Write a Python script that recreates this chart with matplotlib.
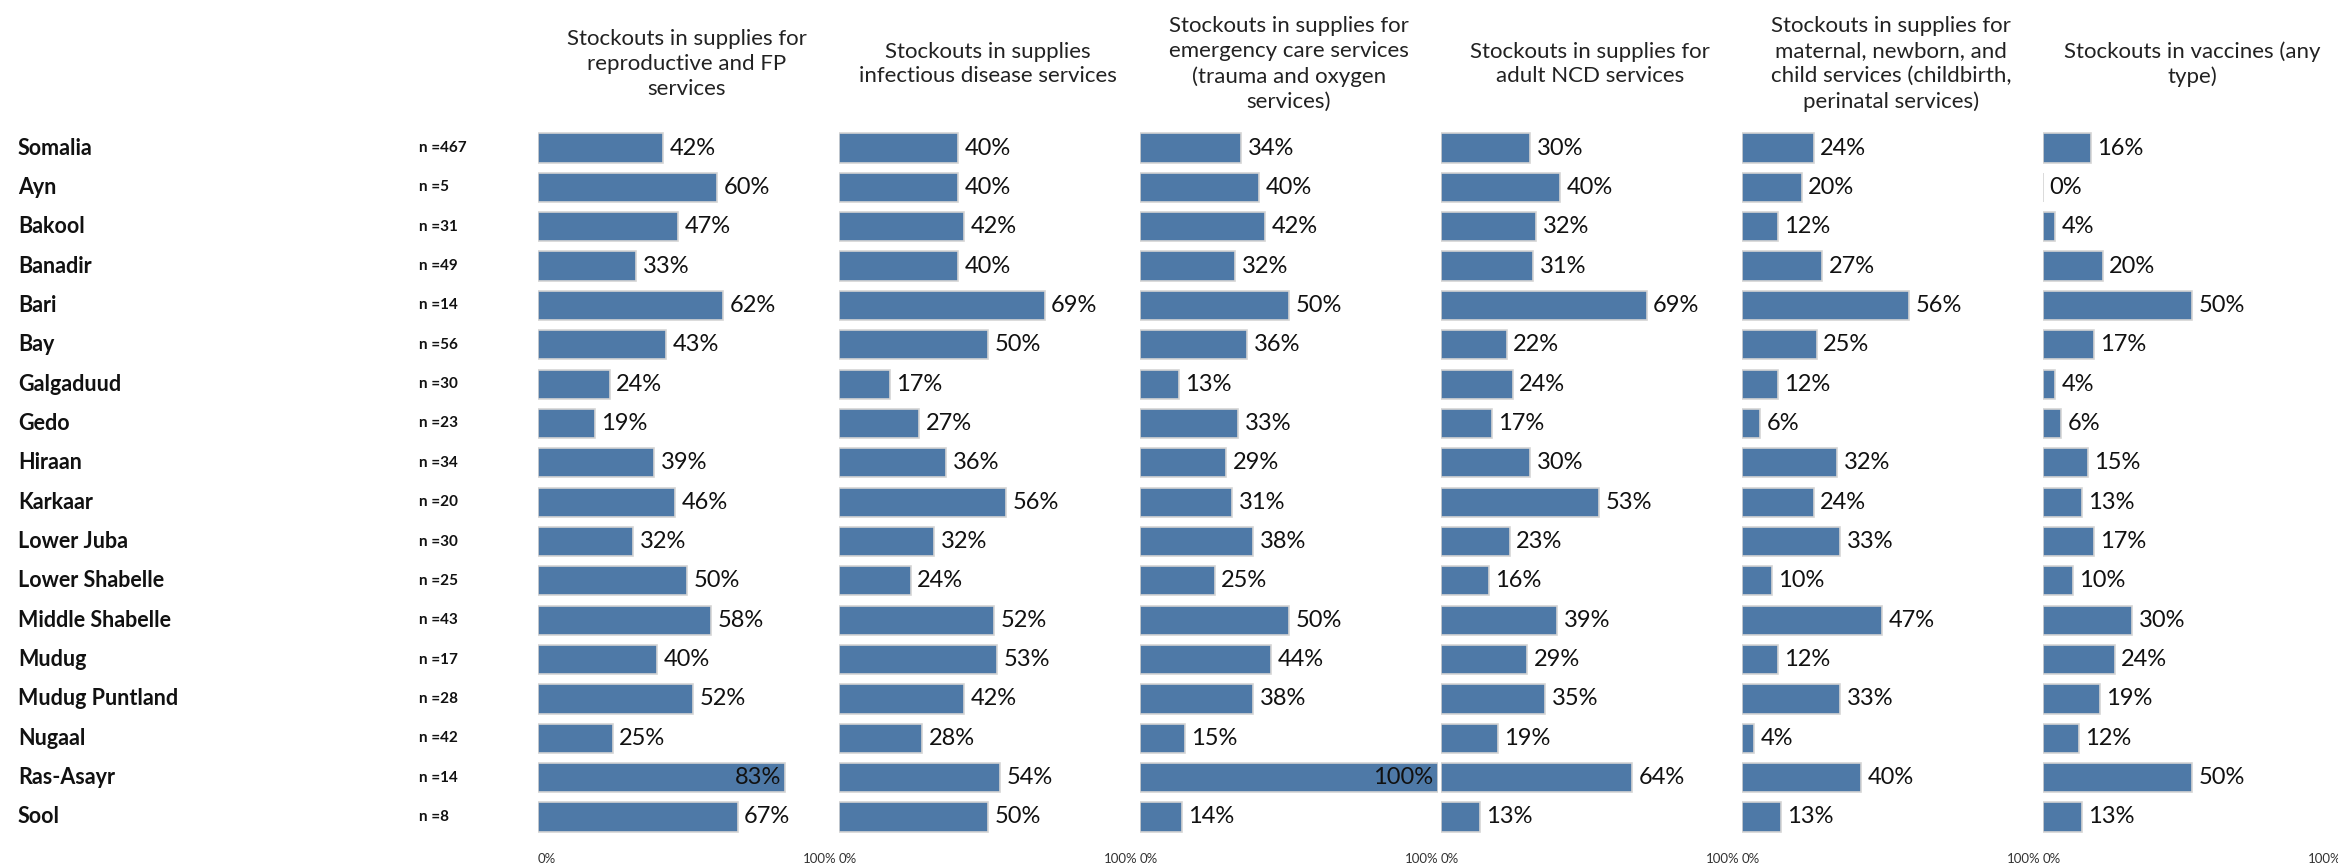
import matplotlib
matplotlib.use("Agg")
import matplotlib.pyplot as plt
import matplotlib.transforms as mtransforms

plt.rcParams['font.family'] = ['Lato', 'DejaVu Sans']

regions = ["Somalia", "Ayn", "Bakool", "Banadir", "Bari", "Bay", "Galgaduud", "Gedo",
           "Hiraan", "Karkaar", "Lower Juba", "Lower Shabelle", "Middle Shabelle", "Mudug",
           "Mudug Puntland", "Nugaal", "Ras-Asayr", "Sool"]
n_counts = [467, 5, 31, 49, 14, 56, 30, 23, 34, 20, 30, 25, 43, 17, 28, 42, 14, 8]

headers = [
    "Stockouts in supplies for\nreproductive and FP\nservices",
    "Stockouts in supplies\ninfectious disease services",
    "Stockouts in supplies for\nemergency care services\n(trauma and oxygen\nservices)",
    "Stockouts in supplies for\nadult NCD services",
    "Stockouts in supplies for\nmaternal, newborn, and\nchild services (childbirth,\nperinatal services)",
    "Stockouts in vaccines (any\ntype)",
]

fp = [42, 60, 47, 33, 62, 43, 24, 19, 39, 46, 32, 50, 58, 40, 52, 25, 83, 67]
infectious = [40, 40, 42, 40, 69, 50, 17, 27, 36, 56, 32, 24, 52, 53, 42, 28, 54, 50]
emergency = [34, 40, 42, 32, 50, 36, 13, 33, 29, 31, 38, 25, 50, 44, 38, 15, 100, 14]
ncd = [30, 40, 32, 31, 69, 22, 24, 17, 30, 53, 23, 16, 39, 29, 35, 19, 64, 13]
mnch = [24, 20, 12, 27, 56, 25, 12, 6, 32, 24, 33, 10, 47, 12, 33, 4, 40, 13]
vaccines = [16, 0, 4, 20, 50, 17, 4, 6, 15, 13, 17, 10, 30, 24, 19, 12, 50, 13]

columns = [fp, infectious, emergency, ncd, mnch, vaccines]

W, H = 2338, 865
fig = plt.figure(figsize=(W / 100, H / 100), dpi=100)

bar_color = "#4e79a7"
row_top = 148 - 39.35 / 2
row_bot = 817 + 39.35 / 2
ypos = list(range(len(regions)))

axes = []
for k, vals in enumerate(columns):
    left = 538 + k * 301
    ax = fig.add_axes([left / W, 1 - row_bot / H, 298 / W, (row_bot - row_top) / H])
    ax.barh(ypos, vals, height=0.74, color=bar_color, edgecolor="#d4d4d4", linewidth=1.2)
    ax.set_xlim(0, 100)
    ax.set_ylim(len(regions) - 0.5, -0.5)
    for i, v in enumerate(vals):
        # long bars get their label inside
        if v >= 80:
            ax.text(v - 1.5, i, f"{v}%", ha="right", va="center", fontsize=17, color="#111111")
        else:
            ax.text(v + 2.2, i, f"{v}%", ha="left", va="center", fontsize=17, color="#111111")
    ax.set_yticks([])
    ax.set_xticks([0, 100])
    ax.set_xticklabels(["0%", "100%"], fontsize=9.5, color="#333333")
    labs = ax.get_xticklabels()
    labs[0].set_ha("left")
    labs[1].set_ha("right")
    ax.tick_params(axis="x", length=0, pad=12)
    for s in ax.spines.values():
        s.set_visible(False)
    fig.text((left + 149) / W, 1 - 64 / H, headers[k], ha="center", va="center",
             fontsize=16, color="#222222", linespacing=1.3)
    axes.append(ax)

trans = mtransforms.blended_transform_factory(fig.transFigure, axes[0].transData)
for i, (r, n) in enumerate(zip(regions, n_counts)):
    fig.text(18 / W, i, r, transform=trans, ha="left", va="center",
             fontsize=15.5, fontweight="bold", color="#111111")
    fig.text(419 / W, i, f"n ={n}", transform=trans, ha="left", va="center",
             fontsize=11, fontweight="bold", color="#111111")

fig.savefig("out.png", dpi=100)
